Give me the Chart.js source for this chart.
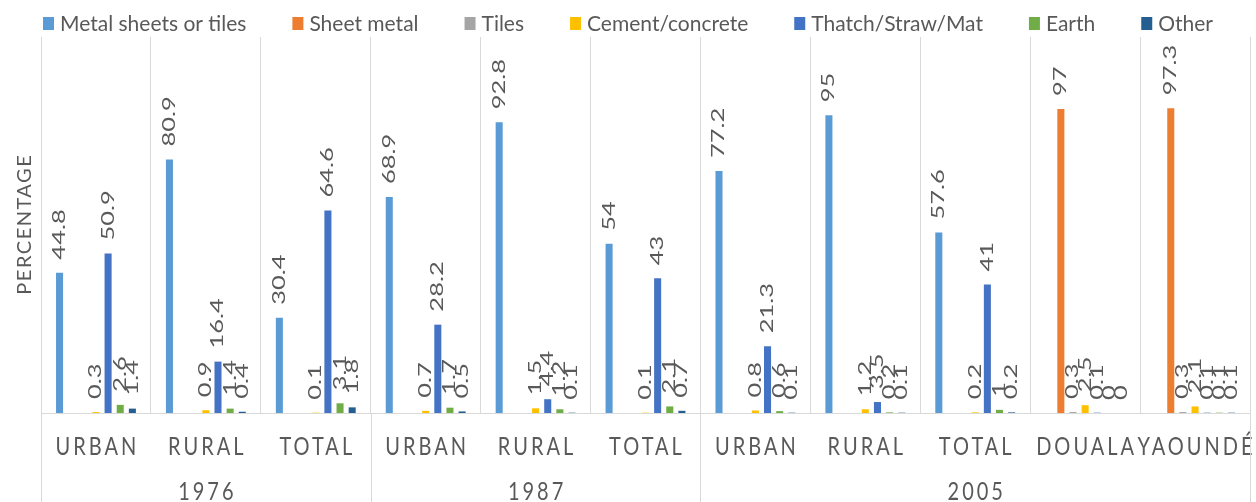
<!DOCTYPE html>
<html>
<head>
<meta charset="utf-8">
<script src="https://cdn.jsdelivr.net/npm/chart.js@4.4.1/dist/chart.umd.min.js"></script>
<style>
  html, body { margin: 0; padding: 0; background: #fff; }
  #wrap { width: 1256px; height: 502px; position: relative; }
</style>
</head>
<body>
<div id="wrap"><canvas id="roofChart"></canvas></div>
<script>
// roofing material by area, Cameroon censuses / survey
const categories = ['URBAN', 'RURAL', 'TOTAL', 'URBAN', 'RURAL', 'TOTAL', 'URBAN', 'RURAL', 'TOTAL', 'DOUALA', 'YAOUNDÉ'];
const yearGroups = ['1976', '1987', '2005'];
const yearGroupSizes = [3, 3, 5];

const seriesNames = ['Metal sheets or tiles', 'Sheet metal', 'Tiles', 'Cement/concrete', 'Thatch/Straw/Mat', 'Earth', 'Other'];
const seriesColors = ['#5b9bd5', '#ed7d31', '#a5a5a5', '#ffc000', '#4472c4', '#70ad47', '#255e91'];

const metalSheetsOrTiles = [44.8, 80.9, 30.4, 68.9, 92.8, 54, 77.2, 95, 57.6, null, null];
const sheetMetal = [null, null, null, null, null, null, null, null, null, 97, 97.3];
const tiles = [null, null, null, null, null, null, null, null, null, 0.3, 0.3];
const cementConcrete = [0.3, 0.9, 0.1, 0.7, 1.5, 0.1, 0.8, 1.2, 0.2, 2.5, 2.1];
const thatchStrawMat = [50.9, 16.4, 64.6, 28.2, 4.4, 43, 21.3, 3.5, 41, 0.1, 0.1];
const earth = [2.6, 1.4, 3.1, 1.7, 1.2, 2.1, 0.6, 0.2, 1, 0, 0.1];
const other = [1.4, 0.4, 1.8, 0.5, 0.1, 0.7, 0.1, 0.1, 0.2, 0, 0.1];

const seriesValues = [metalSheetsOrTiles, sheetMetal, tiles, cementConcrete, thatchStrawMat, earth, other];

const textGray = '#595959';
const gridGray = '#d9d9d9';
const FONT = 'Lato, "Open Sans", sans-serif';

// legend drawn as a single centred row above the plot
const legendRow = {
  id: 'legendRow',
  afterDraw(chart) {
    const { ctx } = chart;
    const boxW = 11, boxH = 13, boxGap = 6, itemGap = 46, baseline = 31;
    ctx.save();
    ctx.font = `21px ${FONT}`;
    ctx.textBaseline = 'alphabetic';
    ctx.textAlign = 'left';
    const items = chart.data.datasets;
    const widths = items.map(ds => ctx.measureText(ds.label).width);
    const total = widths.reduce((s, w) => s + boxW + boxGap + w, 0) + itemGap * (items.length - 1);
    let x = (chart.width - total) / 2;
    items.forEach((ds, i) => {
      ctx.fillStyle = ds.backgroundColor;
      ctx.fillRect(x, baseline - 14, boxW, boxH);
      ctx.fillStyle = textGray;
      ctx.fillText(ds.label, x + boxW + boxGap, baseline);
      x += boxW + boxGap + widths[i] + itemGap;
    });
    ctx.restore();
  }
};

// vertical value labels above every bar
const barValueLabels = {
  id: 'barValueLabels',
  afterDatasetsDraw(chart) {
    const { ctx } = chart;
    ctx.save();
    ctx.font = `17px ${FONT}`;
    ctx.fillStyle = textGray;
    ctx.textAlign = 'left';
    ctx.textBaseline = 'middle';
    chart.data.datasets.forEach((ds, i) => {
      const meta = chart.getDatasetMeta(i);
      meta.data.forEach((bar, j) => {
        const v = ds.data[j];
        if (v === null || v === undefined) return;
        ctx.save();
        ctx.translate(bar.x, bar.y - 13);
        ctx.rotate(-Math.PI / 2);
        ctx.scale(1.5, 1);
        ctx.fillText(String(v), 0, 0);
        ctx.restore();
      });
    });
    ctx.restore();
  }
};

// two-level category axis, group dividers and the y title
const axisText = {
  id: 'axisText',
  afterDraw(chart) {
    const { ctx, chartArea } = chart;
    const xs = chart.scales.x;
    const step = xs.getPixelForValue(1) - xs.getPixelForValue(0);
    const spacing = 3;

    ctx.save();
    ctx.fillStyle = textGray;
    ctx.textAlign = 'center';
    ctx.textBaseline = 'alphabetic';
    ctx.font = `20px ${FONT}`;
    ctx.letterSpacing = spacing + 'px';

    categories.forEach((label, i) => {
      ctx.save();
      ctx.translate(xs.getPixelForValue(i) + spacing / 2, 455);
      ctx.scale(1, 1.25);
      ctx.fillText(label, 0, 0);
      ctx.restore();
    });

    let start = 0;
    const dividers = [xs.getPixelForValue(0) - step / 2];
    yearGroups.forEach((year, g) => {
      const end = start + yearGroupSizes[g] - 1;
      const cx = (xs.getPixelForValue(start) + xs.getPixelForValue(end)) / 2;
      ctx.save();
      ctx.translate(cx + spacing / 2, 500);
      ctx.scale(1, 1.25);
      ctx.fillText(year, 0, 0);
      ctx.restore();
      dividers.push(xs.getPixelForValue(end) + step / 2);
      start = end + 1;
    });

    ctx.strokeStyle = gridGray;
    ctx.lineWidth = 1;
    dividers.forEach(px => {
      const x = Math.round(px) + 0.5;
      ctx.beginPath();
      ctx.moveTo(x, chartArea.bottom);
      ctx.lineTo(x, chart.height);
      ctx.stroke();
    });

    // y axis title
    ctx.letterSpacing = '1.5px';
    ctx.font = `20px ${FONT}`;
    ctx.textBaseline = 'middle';
    ctx.save();
    ctx.translate(25, (chartArea.top + chartArea.bottom) / 2);
    ctx.rotate(-Math.PI / 2);
    ctx.fillText('PERCENTAGE', 0.75, 0);
    ctx.restore();
    ctx.restore();
  }
};

new Chart(document.getElementById('roofChart'), {
  type: 'bar',
  data: {
    labels: categories,
    datasets: seriesNames.map((name, i) => ({
      label: name,
      data: seriesValues[i],
      backgroundColor: seriesColors[i],
      borderWidth: 0,
      barPercentage: 0.58,
      categoryPercentage: 0.773
    }))
  },
  options: {
    responsive: true,
    maintainAspectRatio: false,
    animation: false,
    layout: { padding: { left: 41, right: 6, top: 37, bottom: 89 } },
    scales: {
      x: {
        grid: { display: true, color: gridGray, offset: true, drawTicks: false },
        border: { display: true, color: gridGray },
        ticks: { display: false }
      },
      y: {
        display: false,
        min: 0,
        max: 120
      }
    },
    plugins: {
      legend: { display: false },
      tooltip: { enabled: false }
    }
  },
  plugins: [legendRow, barValueLabels, axisText]
});
</script>
</body>
</html>
